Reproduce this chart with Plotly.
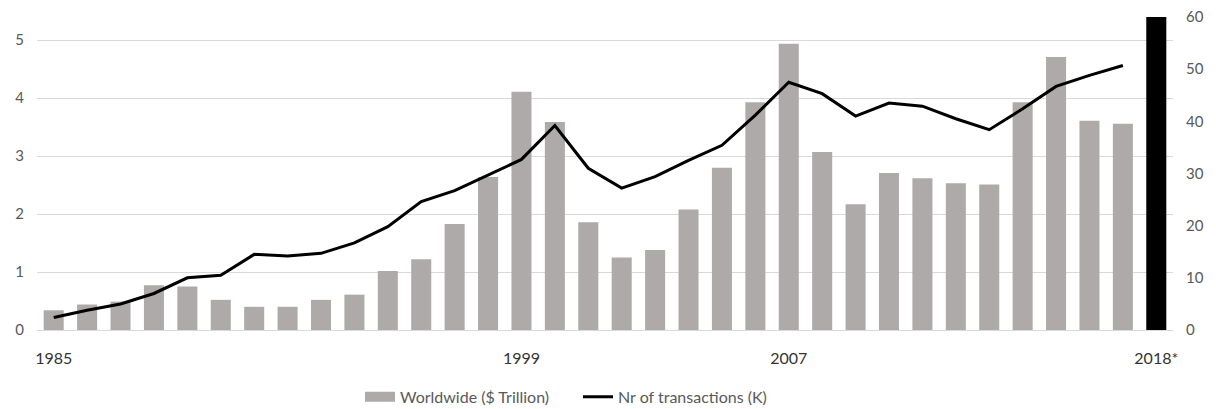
import plotly.graph_objects as go

# Deal years (last entry is the partial-year estimate)
years = ["1985", "1986", "1987", "1988", "1989", "1990", "1991", "1992", "1993",
         "1994", "1995", "1996", "1997", "1998", "1999", "2000", "2001", "2002",
         "2003", "2004", "2005", "2006", "2007", "2008", "2009", "2010", "2011",
         "2012", "2013", "2014", "2015", "2016", "2017", "2018*"]

# Worldwide deal value, $ trillion (1985-2017)
value_trillion = [0.34, 0.44, 0.49, 0.77, 0.75, 0.52, 0.40, 0.40, 0.52, 0.61,
                  1.02, 1.22, 1.83, 2.64, 4.11, 3.59, 1.86, 1.25, 1.38, 2.08,
                  2.80, 3.93, 4.94, 3.07, 2.17, 2.71, 2.62, 2.53, 2.51, 3.93,
                  4.71, 3.61, 3.56]

# Number of transactions, thousands (1985-2017)
transactions_k = [2.4, 3.8, 5.0, 7.0, 10.0, 10.5, 14.5, 14.2, 14.7, 16.7,
                  19.8, 24.6, 26.7, 29.7, 32.7, 39.2, 31.0, 27.2, 29.4, 32.5,
                  35.4, 41.2, 47.5, 45.3, 41.0, 43.5, 42.9, 40.5, 38.4, 42.4,
                  46.7, 48.8, 50.7]

# Highlighted 2018* column on the transactions axis
highlight_year = ["2018*"]
highlight_value = [60]

shown_ticks = ["1985", "1999", "2007", "2018*"]

FONT = "Lato, 'Open Sans', sans-serif"
GRID = "#d9d9d9"
LABEL = "#595959"
BAR_GREY = "#aeaaaa"

fig = go.Figure()

fig.add_trace(go.Bar(
    x=years[:len(value_trillion)], y=value_trillion,
    name="Worldwide ($ Trillion)",
    marker=dict(color=BAR_GREY, line=dict(width=0)),
    showlegend=False,
    yaxis="y",
))

fig.add_trace(go.Bar(
    x=highlight_year, y=highlight_value,
    marker=dict(color="#000000", line=dict(width=0)),
    showlegend=False,
    yaxis="y2",
))

fig.add_trace(go.Scatter(
    x=years[:len(transactions_k)], y=transactions_k,
    name="Nr of transactions (K)",
    mode="lines",
    line=dict(color="#000000", width=3),
    showlegend=False,
    yaxis="y2",
))

# Legend keys: a wide grey block for the bars, a black stroke for the line
fig.add_trace(go.Scatter(
    x=[None], y=[None], mode="lines",
    name="Worldwide ($ Trillion)",
    line=dict(color=BAR_GREY, width=10),
    yaxis="y",
))
fig.add_trace(go.Scatter(
    x=[None], y=[None], mode="lines",
    name="Nr of transactions (K)",
    line=dict(color="#000000", width=3),
    yaxis="y2",
))

fig.update_layout(
    width=1216, height=409,
    margin=dict(l=37, r=43, t=17, b=79, autoexpand=False),
    paper_bgcolor="white", plot_bgcolor="white",
    font=dict(family=FONT, size=15, color=LABEL),
    barmode="overlay",
    bargap=0.4,
    xaxis=dict(
        type="category",
        categoryorder="array", categoryarray=years,
        tickmode="array", tickvals=shown_ticks, ticktext=shown_ticks,
        showgrid=False, showline=True, linecolor=GRID, linewidth=1,
        ticks="", tickfont=dict(color="#333333", size=16),
        ticklabelstandoff=14,
        zeroline=False,
    ),
    yaxis=dict(
        range=[0, 5.4],
        tickvals=[0, 1, 2, 3, 4, 5],
        showgrid=True, gridcolor=GRID, gridwidth=1,
        zeroline=False, showline=False, ticks="",
        ticklabelstandoff=12,
    ),
    yaxis2=dict(
        range=[0, 60],
        tickvals=[0, 10, 20, 30, 40, 50, 60],
        overlaying="y", side="right",
        showgrid=False, zeroline=False, showline=False, ticks="",
        ticklabelstandoff=12,
    ),
    legend=dict(
        orientation="h",
        x=360 / 1216, xanchor="left", xref="container",
        y=0.03, yanchor="middle", yref="container",
        font=dict(size=16, color=LABEL),
        itemwidth=30,
        entrywidth=173, entrywidthmode="pixels",
        tracegroupgap=0,
    ),
)

fig.write_html("out.html")
